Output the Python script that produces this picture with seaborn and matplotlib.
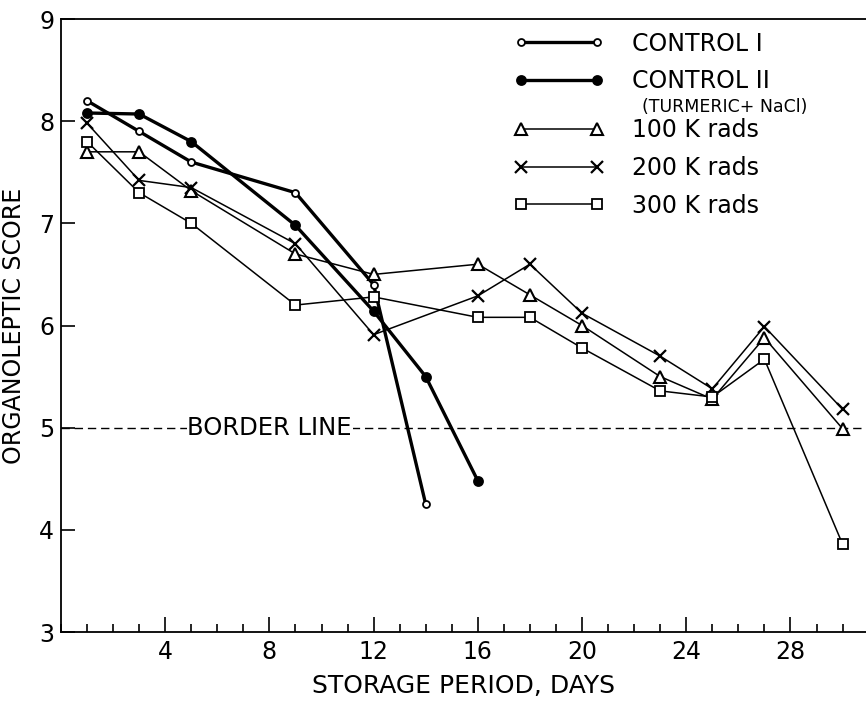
import matplotlib
matplotlib.use("Agg")
import matplotlib.pyplot as plt
import seaborn as sns
from matplotlib.ticker import MultipleLocator

# storage days and organoleptic scores
days_c1 = [1, 3, 5, 9, 12, 14]
control1 = [8.2, 7.9, 7.6, 7.3, 6.4, 4.25]
days_c2 = [1, 3, 5, 9, 12, 14, 16]
control2 = [8.08, 8.07, 7.8, 6.98, 6.14, 5.5, 4.48]
days_irr = [1, 3, 5, 9, 12, 16, 18, 20, 23, 25, 27, 30]
k100 = [7.7, 7.7, 7.32, 6.7, 6.5, 6.6, 6.3, 6.0, 5.5, 5.28, 5.88, 4.99]
k200 = [7.98, 7.42, 7.35, 6.8, 5.91, 6.29, 6.6, 6.12, 5.7, 5.38, 5.99, 5.18]
k300 = [7.8, 7.3, 7.0, 6.2, 6.28, 6.08, 6.08, 5.78, 5.36, 5.3, 5.67, 3.86]

labels = ["CONTROL I", "CONTROL II", "100 K rads", "200 K rads", "300 K rads"]
sublabel = "(TURMERIC+ NaCl)"
border = 5

sns.set_style("ticks")
plt.rcParams['font.family'] = ['DejaVu Sans']
for k in ['text.color', 'axes.labelcolor', 'xtick.color', 'ytick.color',
          'axes.edgecolor']:
    plt.rcParams[k] = 'black'

fig = plt.figure(figsize=(8.66, 7.08), dpi=100)
ax = fig.add_axes([61 / 866, 1 - 632 / 708, 805 / 866, 613 / 708])

# (x, y, linewidth, marker, markersize, facecolor, edgewidth)
styles = [
    (days_c1, control1, 2.4, 'o', 5, 'white', 1.3),
    (days_c2, control2, 2.4, 'o', 6.5, 'black', 1.3),
    (days_irr, k100, 1.1, '^', 8, 'white', 1.5),
    (days_irr, k200, 1.1, 'x', 8, 'black', 1.6),
    (days_irr, k300, 1.1, 's', 7.5, 'white', 1.3),
]

handles = []
for (x, y, lw, mk, ms, fc, mew), lab in zip(styles, labels):
    sns.lineplot(x=x, y=y, ax=ax, color='black', lw=lw, marker=mk, ms=ms,
                 mfc=fc, mec='black', mew=mew, sort=False, legend=False)
    handles.append(ax.lines[-1])

ax.axhline(border, color='black', lw=1, ls=(0, (6, 3.5)), zorder=1)
ax.text(4.85, border, "BORDER LINE", fontsize=17.5, va='center', ha='left',
        bbox=dict(facecolor='white', edgecolor='none', pad=0.5))

ax.set_xlim(0, 30.9)
ax.set_ylim(3, 9)
ax.xaxis.set_minor_locator(MultipleLocator(1))
ax.set_xticks([4, 8, 12, 16, 20, 24, 28])
ax.yaxis.set_major_locator(MultipleLocator(1))
ax.tick_params(axis='x', which='major', direction='in', length=11, width=1.2,
               labelsize=17, pad=6)
ax.tick_params(axis='x', which='minor', direction='in', length=6, width=1.2)
ax.tick_params(axis='y', which='major', direction='in', length=10, width=1.2,
               labelsize=17, pad=5)
ax.spines['right'].set_visible(False)
for s in ['left', 'bottom', 'top']:
    ax.spines[s].set_linewidth(1.3)

ax.set_xlabel("STORAGE PERIOD, DAYS", fontsize=18, labelpad=7)
ax.set_ylabel("ORGANOLEPTIC SCORE", fontsize=17, labelpad=9)

# two legend blocks so the sub-label fits under CONTROL II
leg_kw = dict(frameon=False, fontsize=17, numpoints=2, handlelength=3.8,
              handletextpad=1.2, labelspacing=0.58, borderpad=0,
              borderaxespad=0, loc='center left')
leg1 = ax.legend(handles[:2], labels[:2], bbox_to_anchor=(0.563, 0.929),
                 **leg_kw)
ax.add_artist(leg1)
ax.legend(handles[2:], labels[2:], bbox_to_anchor=(0.563, 0.757), **leg_kw)
ax.text(0.722, 0.857, sublabel, transform=ax.transAxes, fontsize=12.5,
        va='center', ha='left')

fig.savefig("out.png", dpi=100)
